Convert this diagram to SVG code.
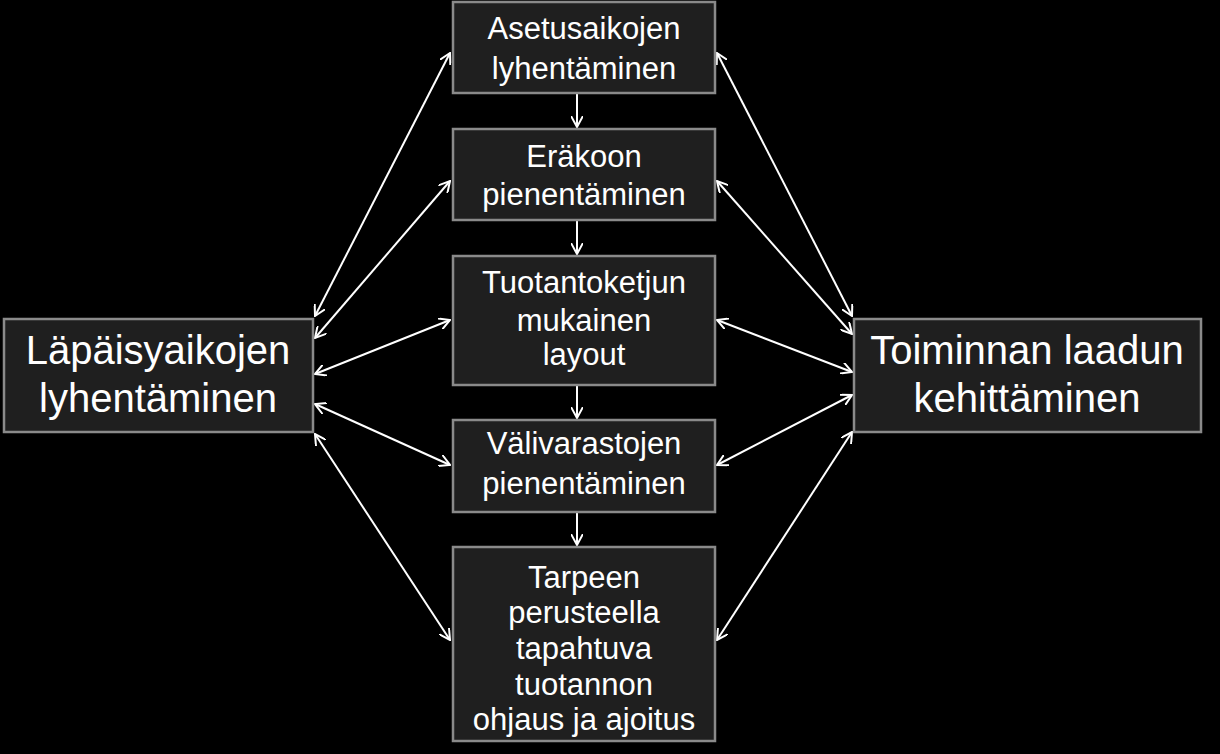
<svg xmlns="http://www.w3.org/2000/svg" width="1220" height="754" viewBox="0 0 1220 754">
<style>
.b{fill:#1f1f1f;stroke:#8a8a8a;stroke-width:2.5}
.t{font-family:"Liberation Sans",Arial,sans-serif;fill:#fff;text-anchor:middle;font-size:31px}
.T{font-size:40px}
.c line{stroke:#fff;stroke-width:2;marker-start:url(#a);marker-end:url(#a)}
.c line.v{marker-start:none}
</style>
<defs>
<marker id="a" viewBox="0 0 12 12" refX="11" refY="6" markerWidth="12" markerHeight="12" markerUnits="userSpaceOnUse" orient="auto-start-reverse">
<path d="M0,0L11,6L0,12" fill="none" stroke="#fff" stroke-width="2"/>
</marker>
</defs>
<rect width="1220" height="754" fill="#000"/>
<g class="c">
<line x1="315" y1="316" x2="450" y2="53"/>
<line x1="315" y1="338" x2="450" y2="181"/>
<line x1="315" y1="374" x2="450" y2="320"/>
<line x1="315" y1="404" x2="450" y2="465"/>
<line x1="315" y1="434" x2="450" y2="640"/>
<line x1="717" y1="53" x2="852" y2="316"/>
<line x1="717" y1="181" x2="852" y2="334"/>
<line x1="717" y1="320" x2="852" y2="372"/>
<line x1="717" y1="465" x2="852" y2="395"/>
<line x1="717" y1="640" x2="852" y2="432"/>
<line class="v" x1="577" y1="93" x2="577" y2="127"/>
<line class="v" x1="577" y1="220" x2="577" y2="254"/>
<line class="v" x1="577" y1="385" x2="577" y2="418"/>
<line class="v" x1="577" y1="512" x2="577" y2="545"/>
</g>
<g id="n1"><rect class="b" x="453" y="2" width="262" height="91"/><text class="t" x="584" y="39">Asetusaikojen</text><text class="t" x="584" y="79">lyhentäminen</text></g>
<g id="n2"><rect class="b" x="453" y="129" width="262" height="91"/><text class="t" x="584" y="167">Eräkoon</text><text class="t" x="584" y="205">pienentäminen</text></g>
<g id="n3"><rect class="b" x="453" y="256" width="262" height="129"/><text class="t" x="584" y="293">Tuotantoketjun</text><text class="t" x="584" y="331">mukainen</text><text class="t" x="584" y="365">layout</text></g>
<g id="n4"><rect class="b" x="453" y="420" width="262" height="92"/><text class="t" x="584" y="454">Välivarastojen</text><text class="t" x="584" y="494">pienentäminen</text></g>
<g id="n5"><rect class="b" x="453" y="547" width="262" height="194"/><text class="t" x="584" y="588">Tarpeen</text><text class="t" x="584" y="623">perusteella</text><text class="t" x="584" y="659">tapahtuva</text><text class="t" x="584" y="695">tuotannon</text><text class="t" x="584" y="730">ohjaus ja ajoitus</text></g>
<g id="L"><rect class="b" x="4" y="319" width="309" height="113"/><text class="t T" x="158" y="364">Läpäisyaikojen</text><text class="t T" x="158" y="412">lyhentäminen</text></g>
<g id="R"><rect class="b" x="854" y="319" width="347" height="113"/><text class="t T" x="1027" y="364">Toiminnan laadun</text><text class="t T" x="1027" y="412">kehittäminen</text></g>
</svg>
